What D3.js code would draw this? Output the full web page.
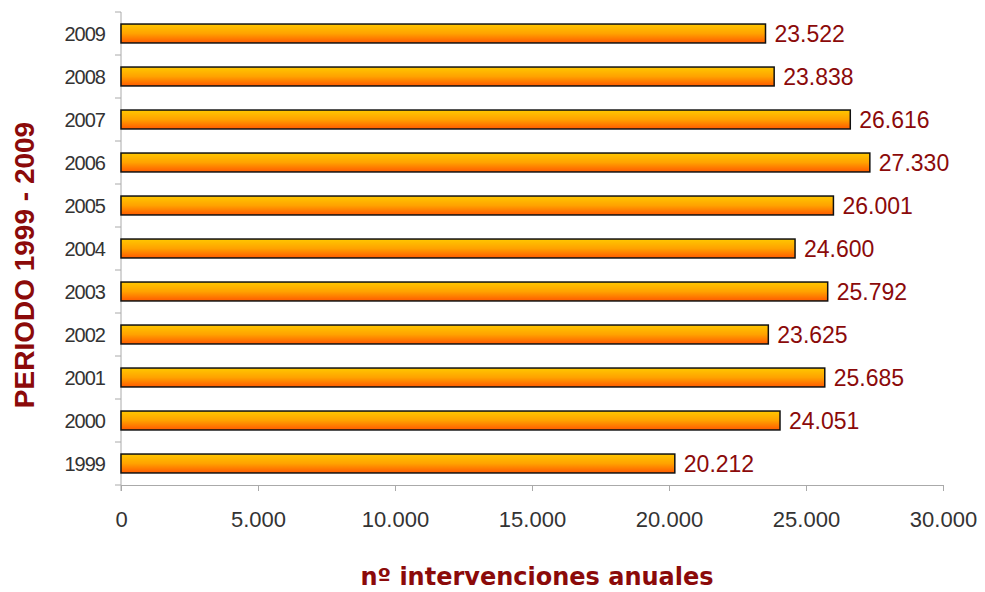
<!DOCTYPE html>
<html><head><meta charset="utf-8">
<script src="https://cdn.jsdelivr.net/npm/d3@7"></script>
<style>body{margin:0;background:#fff}svg{display:block}</style>
</head><body>
<svg id="c" width="985" height="592"></svg>
<script>
const years = ["1999","2000","2001","2002","2003","2004","2005","2006","2007","2008","2009"];
const values = [20212,24051,25685,23625,25792,24600,26001,27330,26616,23838,23522];
const xTicks = [0,5000,10000,15000,20000,25000,30000];
const xTitle = "nº intervenciones anuales";
const yTitle = "PERIODO 1999 - 2009";

const svg = d3.select("#c");
const pL = 121, pR = 943, pT = 12, pB = 485;
const x = d3.scaleLinear().domain([0,30000]).range([pL,pR]);
const y = d3.scaleBand().domain(years.slice().reverse()).range([pT,pB]).paddingInner(0.56).paddingOuter(0.28);
const fmt = v => d3.format(",")(v).replace(/,/g,".");

const defs = svg.append("defs");
const g = defs.append("linearGradient").attr("id","bg").attr("x1",0).attr("y1",0).attr("x2",0).attr("y2",1);
g.append("stop").attr("offset","0%").attr("stop-color","#ffc800");
g.append("stop").attr("offset","50%").attr("stop-color","#ffa200");
g.append("stop").attr("offset","100%").attr("stop-color","#ff5a00");

// axes
const xa = svg.append("g").attr("transform",`translate(0,${pB})`)
  .call(d3.axisBottom(x).tickValues(xTicks).tickSize(6).tickFormat(fmt).tickSizeOuter(0));
xa.select(".domain").attr("stroke","#aaa");
xa.selectAll(".tick line").attr("stroke","#aaa");
xa.selectAll(".tick text").attr("font-family","Liberation Sans, Arial, sans-serif").attr("font-size",22)
  .attr("fill","#333").attr("y",42).attr("dy",0);

const ya = svg.append("g").attr("transform",`translate(${pL},0)`);
ya.append("line").attr("x1",0).attr("x2",0).attr("y1",pT).attr("y2",pB+6).attr("stroke","#aaa");
const bounds = d3.range(years.length+1).map(i => pT + i*(pB-pT)/years.length);
ya.selectAll("line.t").data(bounds).join("line").attr("class","t")
  .attr("x1",-6).attr("x2",0).attr("y1",d=>d).attr("y2",d=>d).attr("stroke","#aaa");
ya.selectAll("text").data(years).join("text")
  .attr("x",-16).attr("y",d=>y(d)+y.bandwidth()/2).attr("dy","0.36em")
  .attr("text-anchor","end").attr("font-family","Liberation Sans, Arial, sans-serif")
  .attr("font-size",20).attr("letter-spacing","-1").attr("fill","#333").text(d=>d);

// bars
svg.selectAll("rect.bar").data(years).join("rect").attr("class","bar")
  .attr("x",x(0)).attr("y",d=>y(d)).attr("height",y.bandwidth())
  .attr("width",(d,i)=>x(values[i])-x(0))
  .attr("fill","url(#bg)").attr("stroke","#111").attr("stroke-width",1.5);

svg.selectAll("text.val").data(years).join("text").attr("class","val")
  .attr("x",(d,i)=>x(values[i])+9).attr("y",d=>y(d)+y.bandwidth()/2).attr("dy","0.36em")
  .attr("font-family","Liberation Sans, Arial, sans-serif").attr("font-size",23).attr("fill","#8b0a0a")
  .text((d,i)=>fmt(values[i]));

svg.append("text").attr("x",537).attr("y",585).attr("text-anchor","middle")
  .attr("font-family","DejaVu Sans, Verdana, sans-serif").attr("font-weight","bold").attr("font-size",24)
  .attr("fill","#8b0a0a").text(xTitle);
svg.append("text").attr("transform","translate(34,265) rotate(-90)").attr("text-anchor","middle")
  .attr("font-family","Liberation Sans, Arial, sans-serif").attr("font-weight","bold").attr("font-size",28)
  .attr("fill","#8b0a0a").text(yTitle);
</script>
</body></html>
